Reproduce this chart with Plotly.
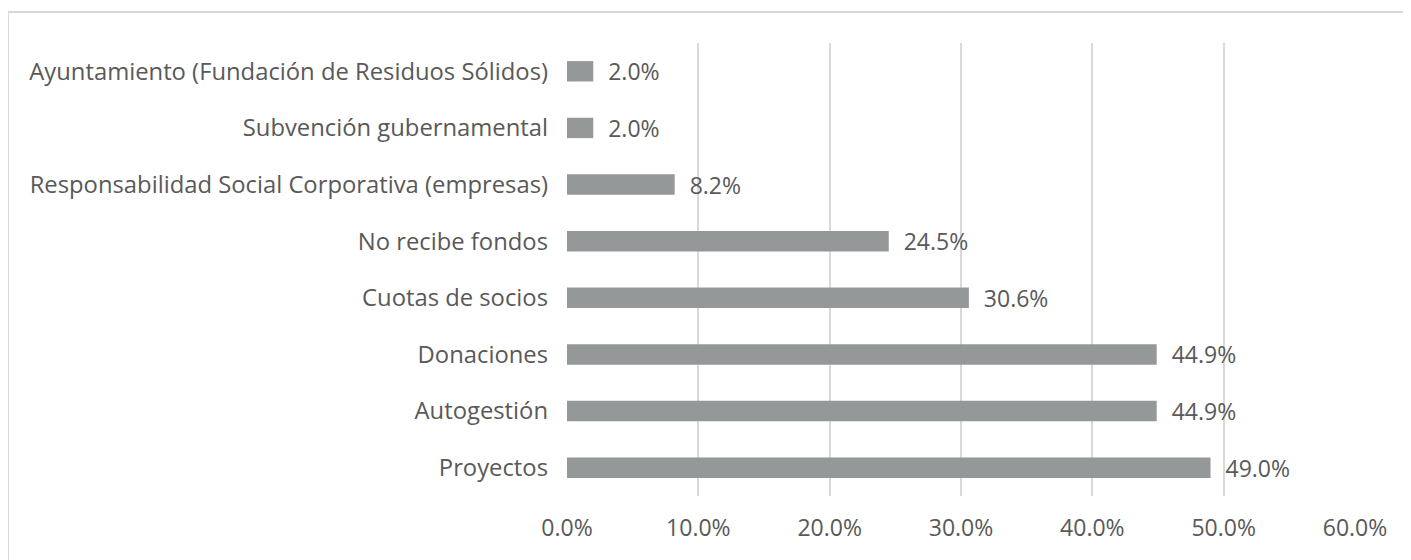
import plotly.graph_objects as go

# Fuentes de financiación (de abajo hacia arriba)
categorias = [
    "Proyectos",
    "Autogestión",
    "Donaciones",
    "Cuotas de socios",
    "No recibe fondos",
    "Responsabilidad Social Corporativa (empresas)",
    "Subvención gubernamental",
    "Ayuntamiento (Fundación de Residuos Sólidos)",
]
porcentajes = [49.0, 44.9, 44.9, 30.6, 24.5, 8.2, 2.0, 2.0]
ticks = [0, 10, 20, 30, 40, 50, 60]
tick_labels = ["0.0%", "10.0%", "20.0%", "30.0%", "40.0%", "50.0%", "60.0%"]

gris_texto = "#595959"

fig = go.Figure(go.Bar(
    x=porcentajes,
    y=categorias,
    orientation="h",
    marker=dict(color="#959899", line=dict(width=0)),
    texttemplate="  %{x:.1f}%",
    textposition="outside",
    constraintext="none",
    textfont=dict(color=gris_texto, size=23),
    cliponaxis=False,
))

# la página tiene 8 px de margen en el body, se compensa aquí
fig.update_layout(
    width=1411,
    height=560,
    paper_bgcolor="white",
    plot_bgcolor="white",
    margin=dict(l=559, r=64, t=35, b=72),
    font=dict(family="Open Sans, sans-serif", size=23, color=gris_texto),
    bargap=0.64,
    showlegend=False,
    xaxis=dict(
        range=[0, 60],
        tickvals=ticks,
        ticktext=tick_labels,
        showgrid=True,
        gridcolor="#d9d9d9",
        gridwidth=2,
        zeroline=False,
        showline=False,
        ticks="",
        ticklabelstandoff=16,
        automargin=False,
    ),
    yaxis=dict(
        showgrid=False,
        zeroline=False,
        showline=False,
        ticks="",
        tickfont=dict(size=23.8),
        ticklabelstandoff=18,
        automargin=False,
    ),
    shapes=[dict(
        type="rect", xref="paper", yref="paper",
        x0=-0.7094, x1=1.2, y0=-0.3, y1=1.0684,
        line=dict(color="#d9d9d9", width=2),
        fillcolor="rgba(0,0,0,0)", layer="below",
    )],
)

fig.write_html("out.html")
